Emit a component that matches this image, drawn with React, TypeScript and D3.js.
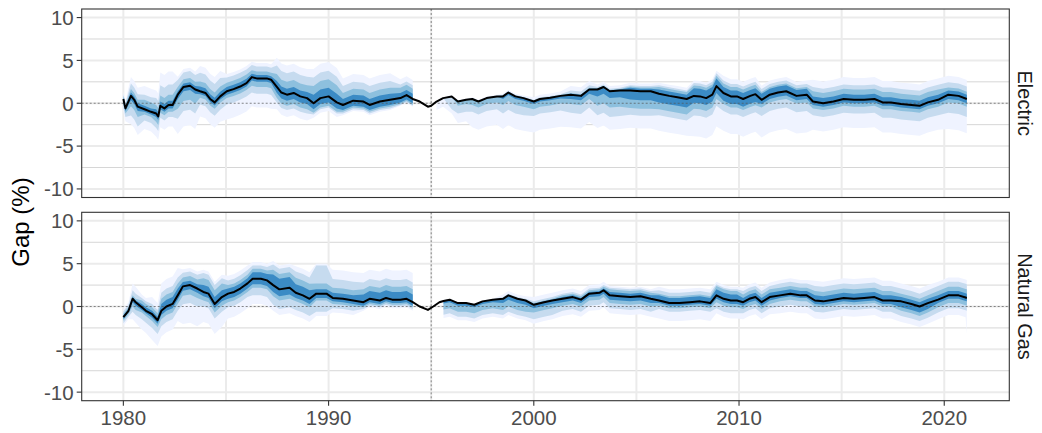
import React from "react";
import * as d3 from "d3";

// ---------- DATA ----------
const xTicks = [1980, 1990, 2000, 2010, 2020];
const xMinor = [1985, 1995, 2005, 2015];
const yTicks = [-10, -5, 0, 5, 10];
const yMinor = [-7.5, -2.5, 2.5, 7.5];
const panelNames = ["Electric", "Natural Gas"];
const bandColors = ["#EFF3FF", "#C6DBEF", "#8DC0DE", "#3B8BC5"];

// Electric: median gap (%)
const elecYears = [
  1980.0, 1980.1, 1980.37, 1980.53, 1980.7, 1981.03, 1981.35, 1981.6, 1981.7, 1981.8,
  1982.0, 1982.2, 1982.4, 1982.65, 1982.93, 1983.25, 1983.5, 1983.74, 1984.0, 1984.23,
  1984.45, 1984.72, 1985.04, 1985.37, 1985.69, 1986.0, 1986.26, 1986.5, 1986.99, 1987.2,
  1987.48, 1987.7, 1987.97, 1988.3, 1988.62, 1988.95, 1989.27, 1989.6, 1990.0, 1990.4,
  1990.7, 1991.2, 1991.7, 1992.0, 1992.5, 1993.0, 1993.5, 1993.8, 1994.1, 1994.44,
  1994.84, 1995.0, 1995.26, 1995.58, 1996.0, 1996.3, 1996.7, 1997.0, 1997.3, 1997.7,
  1998.2, 1998.5, 1998.76, 1999.1, 1999.5, 2000.0, 2000.3, 2000.8, 2001.3, 2001.8,
  2002.3, 2002.7, 2003.1, 2003.4, 2003.7, 2004.2, 2004.7, 2005.2, 2005.7, 2006.1,
  2006.6, 2007.0, 2007.45, 2007.8, 2008.1, 2008.4, 2008.7, 2008.9, 2009.24, 2009.6,
  2009.9, 2010.2, 2010.55, 2010.8, 2011.1, 2011.5, 2011.9, 2012.3, 2012.8, 2013.3,
  2013.6, 2014.1, 2014.6, 2015.1, 2015.6, 2016.1, 2016.6, 2017.0, 2017.4, 2017.9,
  2018.4, 2018.8, 2019.2, 2019.7, 2020.2, 2020.7, 2021.1,
];
const elecGap = [
  0.5, -0.6, 0.86, 0.4, -0.4, -0.7, -1.0, -1.2, -1.55, -0.3,
  -0.6, -0.2, -0.2, 1.0, 1.9, 2.05, 1.6, 1.4, 1.2, 0.5,
  0.1, 0.8, 1.4, 1.65, 1.95, 2.35, 3.05, 2.9, 2.9, 2.75,
  1.9, 1.25, 1.0, 1.2, 0.8, 0.6, 0.0, 0.6, 0.8, 0.1,
  -0.2, 0.3, 0.2, -0.2, 0.2, 0.4, 0.6, 0.95, 0.5, 0.2,
  -0.4, -0.3, 0.2, 0.6, 0.8, 0.2, 0.4, 0.5, 0.2, 0.6,
  0.8, 0.8, 1.25, 0.8, 0.6, 0.2, 0.5, 0.65, 0.86, 1.0,
  0.86, 1.6, 1.6, 1.9, 1.4, 1.5, 1.5, 1.4, 1.4, 1.1,
  0.86, 0.7, 0.5, 0.86, 0.8, 0.6, 1.0, 2.0, 1.2, 0.8,
  0.8, 0.5, 0.86, 1.06, 0.4, 1.0, 1.25, 1.4, 0.86, 1.0,
  0.2, 0.0, 0.2, 0.5, 0.4, 0.4, 0.5, 0.1, 0.1, -0.1,
  -0.2, -0.3, 0.1, 0.4, 1.0, 0.86, 0.5,
];

// Electric: band widths above / below the median, from each start year on (NaN = no band)
const elecKnots = [
  1980.0, 1980.2, 1980.8, 1981.5, 1981.75, 1982.6, 1983.6, 1985.0, 1986.2, 1987.4,
  1989.0, 1990.5, 1993.3, 1994.15, 1995.25, 1995.7, 1996.2, 1997.0, 1998.5, 2000.0,
  2001.5, 2003.0, 2004.5, 2006.0, 2007.5, 2009.0, 2011.0, 2013.6, 2016.7, 2019.9,
];
const elecUp = [
  [0.8, 2.2, 2.7, 2.7, 3.9, 2.1, 2.95, 2.0, 1.8, 3.4, 4.0, 3.1, 2.2, NaN, 0.1, 0.1, 0.15, 0.2, 0.3, 0.5, 1.0, 0.6, 0.9, 1.3, 1.8, 2.0, 1.65, 2.55, 2.5, 2.2],
  [0.6, 1.45, 1.7, 1.8, 2.4, 1.7, 2.15, 1.6, 1.4, 2.5, 3.0, 2.2, 1.6, NaN, 0.05, 0.05, 0.1, 0.1, 0.15, 0.2, 0.5, 0.3, 0.6, 1.0, 1.5, 1.45, 1.25, 1.7, 1.75, 1.45],
  [0.4, 0.8, 1.1, 1.0, 1.2, 0.9, 1.15, 1.0, 0.8, 1.5, 2.0, 1.4, 1.2, NaN, 0, 0, 0.05, 0.05, 0.1, 0.1, 0.2, 0.15, 0.45, 0.8, 1.2, 1.1, 0.9, 1.2, 1.2, 0.85],
  [0.2, 0.4, 0.4, 0.5, 0.5, 0.4, 0.55, 0.5, 0.4, 0.7, 1.0, 0.7, 0.6, NaN, 0, 0, 0, 0, 0, 0, 0.1, 0.1, 0.3, 0.5, 0.9, 0.7, 0.7, 0.6, 0.6, 0.5],
];
const elecDown = [
  [1.5, 3.3, 2.3, 2.7, 2.5, 4.6, 2.95, 3.3, 3.4, 2.6, 1.7, 1.2, 0.9, NaN, 1.0, 2.0, 2.5, 3.3, 3.8, 3.6, 3.8, 4.5, 4.35, 4.3, 4.7, 4.4, 4.4, 3.3, 3.5, 4.0],
  [1.0, 2.3, 1.3, 1.7, 1.4, 2.8, 1.55, 1.55, 1.8, 1.8, 1.3, 1.0, 0.8, NaN, 0, 1.5, 1.4, 1.5, 2.0, 1.7, 2.1, 3.0, 2.85, 2.5, 2.3, 2.1, 1.9, 1.6, 1.8, 2.1],
  [0.6, 1.2, 0.6, 1.0, 0.8, 1.65, 0.75, 0.8, 1.0, 1.3, 1.1, 0.8, 0.7, NaN, 0, 0, 0.5, 0.7, 1.0, 0.9, 1.1, 1.9, 2.05, 1.8, 1.5, 1.3, 0.9, 0.8, 0.8, 0.9],
  [0.3, 0.5, 0.3, 0.4, 0.4, 0.5, 0.35, 0.4, 0.4, 0.7, 0.7, 0.6, 0.5, NaN, 0, 0, 0, 0, 0.3, 0.3, 0.5, 0.8, 1.05, 1.0, 0.8, 0.9, 0.5, 0.4, 0.4, 0.5],
];

// Natural Gas: median gap (%)
const gasYears = [
  1980.0, 1980.25, 1980.45, 1980.6, 1980.9, 1981.1, 1981.4, 1981.67, 1981.85, 1982.1,
  1982.4, 1982.65, 1982.9, 1983.25, 1983.6, 1983.9, 1984.15, 1984.45, 1984.8, 1985.1,
  1985.4, 1985.7, 1986.05, 1986.3, 1986.7, 1987.0, 1987.3, 1987.6, 1988.1, 1988.4,
  1988.75, 1989.07, 1989.4, 1989.9, 1990.2, 1990.7, 1991.2, 1991.7, 1992.0, 1992.5,
  1992.8, 1993.1, 1993.5, 1993.8, 1994.1, 1994.44, 1994.84, 1995.1, 1995.4, 1995.6,
  1995.9, 1996.3, 1996.7, 1997.1, 1997.5, 1998.0, 1998.5, 1998.76, 1999.2, 1999.6,
  2000.0, 2000.5, 2000.9, 2001.4, 2001.9, 2002.3, 2002.7, 2003.2, 2003.4, 2003.7,
  2004.2, 2004.7, 2005.2, 2005.7, 2006.1, 2006.6, 2007.1, 2007.6, 2008.1, 2008.6,
  2008.9, 2009.25, 2009.6, 2009.9, 2010.2, 2010.5, 2010.8, 2011.1, 2011.5, 2012.0,
  2012.5, 2013.0, 2013.3, 2013.7, 2014.1, 2014.6, 2015.1, 2015.6, 2016.1, 2016.6,
  2017.0, 2017.4, 2017.9, 2018.4, 2018.8, 2019.2, 2019.7, 2020.2, 2020.7, 2021.04,
  2021.1,
];
const gasGap = [
  -1.25, -0.5, 0.9, 0.5, -0.1, -0.5, -0.9, -1.6, -0.5, 0.0,
  0.3, 1.3, 2.35, 2.5, 2.1, 1.7, 1.5, 0.3, 1.1, 1.5,
  1.7, 2.1, 2.7, 3.25, 3.25, 3.05, 2.5, 2.0, 2.2, 1.6,
  1.3, 0.9, 1.5, 1.5, 1.0, 0.9, 0.7, 0.5, 0.9, 0.7,
  1.0, 0.8, 0.8, 0.9, 0.5, 0.0, -0.4, 0.0, 0.5, 0.65,
  0.8, 0.4, 0.4, 0.2, 0.6, 0.8, 0.9, 1.3, 0.9, 0.7,
  0.2, 0.5, 0.7, 0.9, 1.1, 0.8, 1.5, 1.6, 1.9, 1.3,
  1.2, 1.1, 1.2, 0.9, 0.7, 0.4, 0.4, 0.5, 0.6, 0.4,
  1.3, 0.9, 0.7, 0.7, 0.5, 0.9, 1.1, 0.5, 1.1, 1.3,
  1.5, 1.3, 1.3, 0.7, 0.6, 0.8, 1.0, 0.9, 1.0, 1.1,
  0.7, 0.7, 0.6, 0.3, 0.0, 0.4, 0.8, 1.3, 1.3, 1.05,
  1.0,
];

// Natural Gas: band widths above / below the median
const gasKnots = [
  1980.0, 1980.3, 1980.8, 1981.4, 1981.8, 1982.7, 1983.8, 1985.0, 1986.1, 1987.2,
  1988.2, 1989.2, 1990.0, 1991.5, 1994.2, 1995.5, 1998.5, 2000.0, 2001.0, 2003.5,
  2006.0, 2008.8, 2010.0, 2011.8, 2013.6, 2017.5, 2019.6, 2021.07,
];
const gasUp = [
  [1.0, 1.8, 1.5, 2.0, 3.2, 2.0, 2.6, 2.1, 1.95, 2.8, 3.1, 3.5, 3.3, 3.4, NaN, 0.1, 0.5, 0.9, 1.0, 1.1, 1.6, 1.6, 1.7, 1.8, 2.3, 2.1, 2.1, 2.1],
  [0.7, 1.0, 1.1, 1.2, 2.1, 1.6, 2.2, 1.55, 1.55, 2.4, 2.5, 3.3, 2.2, 2.3, NaN, 0.05, 0.2, 0.4, 0.6, 0.9, 1.2, 1.3, 1.3, 1.4, 1.7, 1.5, 1.6, 1.6],
  [0.4, 0.4, 0.8, 0.8, 1.4, 1.05, 1.6, 1.0, 1.15, 1.8, 1.75, 1.2, 1.2, 1.5, NaN, 0, 0.1, 0.2, 0.4, 0.7, 0.8, 1.1, 0.9, 0.9, 1.1, 0.9, 1.0, 1.0],
  [0.2, 0.2, 0.4, 0.4, 0.8, 0.5, 0.8, 0.6, 0.75, 1.25, 1.0, 0.5, 0.6, 0.9, NaN, 0, 0, 0.1, 0.2, 0.4, 0.6, 0.7, 0.5, 0.5, 0.6, 0.5, 0.5, 0.5],
];
const gasDown = [
  [1.0, 2.4, 2.6, 3.0, 3.0, 4.4, 3.5, 2.9, 2.95, 3.0, 2.7, 2.6, 1.7, 1.0, NaN, 2.0, 2.3, 2.2, 2.0, 2.1, 2.1, 2.1, 2.0, 2.1, 2.1, 2.4, 2.3, 4.2],
  [0.7, 1.5, 1.4, 1.6, 1.8, 2.1, 1.7, 1.6, 1.95, 2.3, 2.0, 2.1, 1.2, 0.8, NaN, 1.6, 1.9, 1.7, 1.4, 1.5, 1.0, 1.5, 1.3, 1.3, 1.3, 1.7, 1.5, 1.5],
  [0.4, 0.9, 0.6, 0.8, 1.0, 1.1, 1.0, 1.0, 1.05, 1.3, 1.0, 0.8, 0.7, 0.6, NaN, 1.0, 1.3, 0.9, 0.8, 0.9, 0.6, 0.8, 0.8, 0.7, 0.7, 1.1, 0.9, 0.9],
  [0.2, 0.4, 0.3, 0.4, 0.5, 0.5, 0.5, 0.6, 0.65, 0.8, 0.6, 0.5, 0.4, 0.4, NaN, 0.3, 0.5, 0.4, 0.4, 0.5, 0.3, 0.4, 0.4, 0.3, 0.4, 0.7, 0.4, 0.4],
];

const refYear = 1995;

// ---------- CHART ----------
type Series = {
  years: number[];
  values: number[];
  knots: number[];
  up: number[][];
  down: number[][];
};

const seriesList: Series[] = [
  { years: elecYears, values: elecGap, knots: elecKnots, up: elecUp, down: elecDown },
  { years: gasYears, values: gasGap, knots: gasKnots, up: gasUp, down: gasDown },
];

const FONT = "'Liberation Sans', Arial, Helvetica, sans-serif";

export default function App() {
  const W = 1042;
  const H = 433;
  const left = 81.7;
  const right = 1009.3;
  const panelBoxes = [
    { top: 9, bottom: 197.5 },
    { top: 212.3, bottom: 400.7 },
  ];
  const x = d3.scaleLinear().domain([1977.97, 2023.17]).range([left, right]);

  return (
    <svg
      width={W}
      height={H}
      style={{ position: "absolute", left: 0, top: 0, display: "block", background: "#fff" }}
      fontFamily={FONT}
    >
      <rect x={0} y={0} width={W} height={H} fill="#fff" />
      {seriesList.map((s, pi) => {
        const box = panelBoxes[pi];
        const y = d3.scaleLinear().domain([-11, 11]).range([box.bottom, box.top]);
        const pts = s.years.map((t, j) => ({ t, v: s.values[j], k: d3.bisectRight(s.knots, t) - 1 }));
        const line = d3
          .line<{ t: number; v: number }>()
          .x((d) => x(d.t))
          .y((d) => y(d.v));
        return (
          <g key={pi}>
            {/* grid */}
            {yMinor.map((v) => (
              <line key={"ym" + v} x1={left} x2={right} y1={y(v)} y2={y(v)} stroke="#D6D6D6" strokeWidth={1} />
            ))}
            {yTicks.map((v) => (
              <line key={"yM" + v} x1={left} x2={right} y1={y(v)} y2={y(v)} stroke="#EBEBEB" strokeWidth={2} />
            ))}
            {[...xTicks, ...xMinor].map((v) => (
              <line key={"x" + v} x1={x(v)} x2={x(v)} y1={box.top} y2={box.bottom} stroke="#EBEBEB" strokeWidth={2} />
            ))}
            {/* bands */}
            {bandColors.map((c, li) => {
              const area = d3
                .area<{ t: number; v: number; k: number }>()
                .defined((d) => !isNaN(s.up[li][d.k]))
                .x((d) => x(d.t))
                .y0((d) => y(d.v - s.down[li][d.k]))
                .y1((d) => y(d.v + s.up[li][d.k]));
              return <path key={"b" + li} d={area(pts) || ""} fill={c} stroke="none" />;
            })}
            {/* reference lines */}
            <line x1={left} x2={right} y1={y(0)} y2={y(0)} stroke="#555" strokeWidth={0.7} strokeDasharray="2,2" />
            <line x1={x(refYear)} x2={x(refYear)} y1={box.top} y2={box.bottom} stroke="#555" strokeWidth={0.7} strokeDasharray="2,2" />
            {/* median */}
            <path d={line(pts) || ""} fill="none" stroke="#000" strokeWidth={2} strokeLinejoin="round" />
            {/* border */}
            <rect x={left} y={box.top} width={right - left} height={box.bottom - box.top} fill="none" stroke="#333" strokeWidth={1.1} />
            {/* y axis */}
            {yTicks.map((v) => (
              <g key={"yt" + v}>
                <line x1={left - 5} x2={left} y1={y(v)} y2={y(v)} stroke="#333" strokeWidth={1.1} />
                <text x={left - 8} y={y(v)} dy="0.36em" textAnchor="end" fontSize={20.5} fill="#4D4D4D">
                  {v}
                </text>
              </g>
            ))}
            {/* strip */}
            <text
              transform={`translate(${1025},${(box.top + box.bottom) / 2}) rotate(90)`}
              textAnchor="middle"
              dy="0.36em"
              fontSize={20}
              fill="#1A1A1A"
            >
              {panelNames[pi]}
            </text>
          </g>
        );
      })}
      {/* x axis */}
      {xTicks.map((v) => (
        <g key={"xt" + v}>
          <line x1={x(v)} x2={x(v)} y1={400.7} y2={405.7} stroke="#333" strokeWidth={1.1} />
          <text x={x(v)} y={425} textAnchor="middle" fontSize={20.5} fill="#4D4D4D">
            {v}
          </text>
        </g>
      ))}
      <text transform={`translate(${29},${222}) rotate(-90)`} textAnchor="middle" fontSize={24} fill="#000">
        Gap (%)
      </text>
    </svg>
  );
}
